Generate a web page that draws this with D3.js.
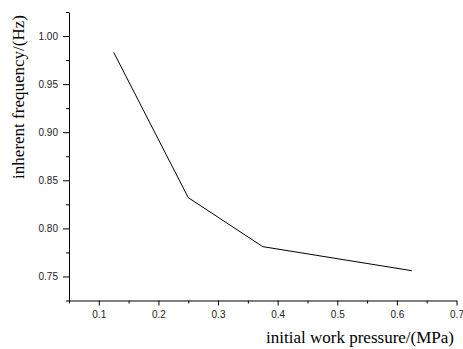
<!DOCTYPE html>
<html>
<head>
<meta charset="utf-8">
<script src="https://cdn.jsdelivr.net/npm/d3@7"></script>
<style>
  body { margin: 0; background: #fff; }
  .tick text { font-family: "Liberation Sans", Arial, sans-serif; font-size: 10px; fill: #222; }
  .title { font-family: "Liberation Serif", "Times New Roman", serif; font-size: 17px; fill: #000; }
</style>
</head>
<body>
<svg id="chart" width="463" height="349"></svg>
<script>
const pressure = [0.125, 0.25, 0.375, 0.625];
const frequency = [0.983, 0.832, 0.781, 0.756];
const xTicks = [0.1, 0.2, 0.3, 0.4, 0.5, 0.6, 0.7];
const yTicks = [0.75, 0.80, 0.85, 0.90, 0.95, 1.00];
const xMinor = [0.05, 0.15, 0.25, 0.35, 0.45, 0.55, 0.65];
const yMinor = [0.725, 0.775, 0.825, 0.875, 0.925, 0.975, 1.025];

const plotLeft = 69, plotRight = 456.5, plotTop = 12, plotBottom = 300.5;

const svg = d3.select('#chart');

const x = d3.scaleLinear().domain([0.05, 0.7]).range([plotLeft, plotRight]);
const y = d3.scaleLinear().domain([0.725, 1.025]).range([plotBottom, plotTop]);

// minor ticks first so major ones draw on top
svg.append('g')
  .attr('transform', `translate(0, ${plotBottom})`)
  .call(d3.axisBottom(x).tickValues(xMinor).tickSize(3).tickFormat(''))
  .call(g => g.select('.domain').remove());

svg.append('g')
  .attr('transform', `translate(${plotLeft}, 0)`)
  .call(d3.axisLeft(y).tickValues(yMinor).tickSize(3).tickFormat(''))
  .call(g => g.select('.domain').remove());

svg.append('g')
  .attr('transform', `translate(0, ${plotBottom})`)
  .call(d3.axisBottom(x).tickValues(xTicks).tickSize(5).tickSizeOuter(0).tickPadding(5).tickFormat(d3.format('.1f')))
  .call(g => g.select('.domain').attr('stroke', '#000'));

svg.append('g')
  .attr('transform', `translate(${plotLeft}, 0)`)
  .call(d3.axisLeft(y).tickValues(yTicks).tickSize(6).tickSizeOuter(0).tickPadding(5).tickFormat(d3.format('.2f')))
  .call(g => g.select('.domain').attr('stroke', '#000'));

const line = d3.line()
  .x((d, i) => x(pressure[i]))
  .y(d => y(d));

svg.append('path')
  .datum(frequency)
  .attr('fill', 'none')
  .attr('stroke', '#000')
  .attr('stroke-width', 1)
  .attr('d', line);

svg.append('text')
  .attr('class', 'title')
  .attr('x', 454)
  .attr('y', 343)
  .attr('text-anchor', 'end')
  .text('initial work pressure/(MPa)');

svg.append('text')
  .attr('class', 'title')
  .attr('transform', 'translate(24, 97) rotate(-90)')
  .attr('text-anchor', 'middle')
  .text('inherent frequency/(Hz)');
</script>
</body>
</html>
